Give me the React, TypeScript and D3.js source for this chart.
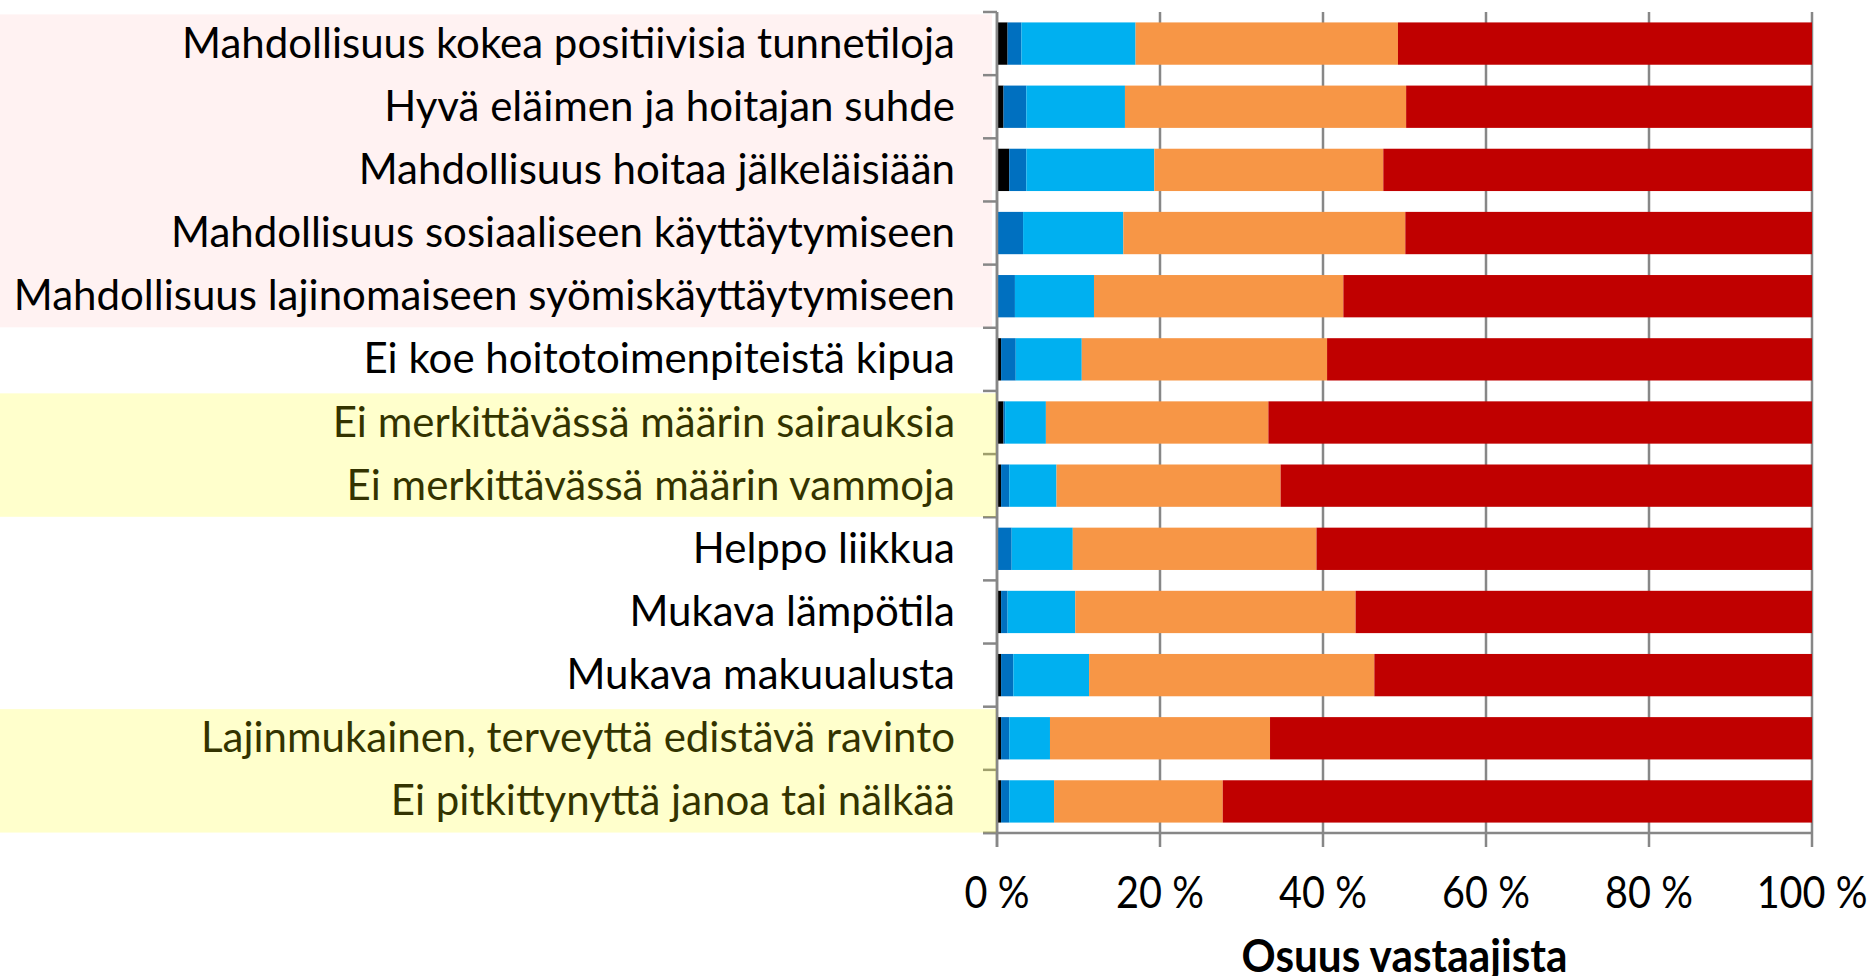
import React from "react";
import * as d3 from "d3";

// väittämät ylhäältä alas
const categories = [
  "Mahdollisuus kokea positiivisia tunnetiloja",
  "Hyvä eläimen ja hoitajan suhde",
  "Mahdollisuus hoitaa jälkeläisiään",
  "Mahdollisuus sosiaaliseen käyttäytymiseen",
  "Mahdollisuus lajinomaiseen syömiskäyttäytymiseen",
  "Ei koe hoitotoimenpiteistä kipua",
  "Ei merkittävässä määrin sairauksia",
  "Ei merkittävässä määrin vammoja",
  "Helppo liikkua",
  "Mukava lämpötila",
  "Mukava makuualusta",
  "Lajinmukainen, terveyttä edistävä ravinto",
  "Ei pitkittynyttä janoa tai nälkää",
];

// osuudet (%) vastausluokittain
const black = [1.3, 0.8, 1.5, 0.1, 0.1, 0.5, 0.8, 0.5, 0.1, 0.5, 0.5, 0.5, 0.5];
const darkBlue = [1.7, 2.8, 2.1, 3.1, 2.1, 1.8, 0.2, 1.0, 1.7, 0.8, 1.5, 1.0, 1.0];
const lightBlue = [14.0, 12.1, 15.7, 12.3, 9.7, 8.1, 5.0, 5.8, 7.5, 8.3, 9.3, 5.0, 5.5];
const orange = [32.2, 34.5, 28.1, 34.6, 30.6, 30.1, 27.3, 27.5, 29.9, 34.4, 35.0, 27.0, 20.7];
const red = [50.8, 49.8, 52.6, 49.9, 57.5, 59.5, 66.7, 65.2, 60.8, 56.0, 53.7, 66.5, 72.3];

const seriesKeys = ["black", "darkBlue", "lightBlue", "orange", "red"];
const seriesColors = ["#000000", "#0070C0", "#00B0F0", "#F79646", "#C00000"];

const xTicks = [0, 20, 40, 60, 80, 100];
const tickLabels = ["0 %", "20 %", "40 %", "60 %", "80 %", "100 %"];
const axisTitle = "Osuus vastaajista";

// korostetut ryhmät (rivi-indeksit)
const highlights = [
  { from: 0, to: 4, kind: "pink" },
  { from: 6, to: 7, kind: "yellow" },
  { from: 11, to: 12, kind: "yellow" },
];

export default function App() {
  const W = 1872, H = 976;
  const left = 997, right = 1812, top = 12, bottom = 833;

  const x = d3.scaleLinear().domain([0, 100]).range([left, right]);
  const y = d3.scaleBand<string>().domain(categories).range([top, bottom])
    .paddingInner(0.33).paddingOuter(0.165);
  const bw = y.bandwidth();
  const step = y.step();

  const rows = categories.map((c, i) => ({
    cat: c, black: black[i], darkBlue: darkBlue[i], lightBlue: lightBlue[i],
    orange: orange[i], red: red[i],
  }));
  const stacked = d3.stack<any>().keys(seriesKeys)(rows);

  const gridColor = "#878787";
  const font = "Lato, 'Open Sans', sans-serif";

  // rajat kategorioiden välillä
  const bandEdges = d3.range(categories.length + 1).map(i => top + i * step);

  const hl = (h: any) => {
    const y0 = (y(categories[h.from]) as number) - 8;
    const y1 = (y(categories[h.to]) as number) + bw + 10;
    return { y0, y1 };
  };

  return (
    <svg width={W} height={H} style={{ position: "absolute", left: 0, top: 0, background: "#fff" }}>
      {/* vaaleanpunainen tausta tekstin alla */}
      {highlights.filter(h => h.kind === "pink").map((h, i) => {
        const r = hl(h);
        return <rect key={"p" + i} x={0} y={r.y0} width={left - 5} height={r.y1 - r.y0} fill="#FFF2F2" />;
      })}

      {/* pystyviivat */}
      {xTicks.map(t => (
        <line key={"g" + t} x1={x(t)} x2={x(t)} y1={top} y2={bottom + 14}
          stroke={gridColor} strokeWidth={2.5} />
      ))}

      {/* pinotut palkit */}
      {stacked.map((s, si) => (
        <g key={s.key} fill={seriesColors[si]}>
          {s.map((d, i) => (
            <rect key={i} x={x(d[0])} y={y(categories[i])} width={Math.max(0, x(d[1]) - x(d[0]))} height={bw} />
          ))}
        </g>
      ))}

      {/* y-akseli */}
      <line x1={left} x2={left} y1={top} y2={bottom + 14} stroke={gridColor} strokeWidth={2.5} />
      {bandEdges.map((e, i) => (
        <line key={"t" + i} x1={left - 14} x2={left} y1={e} y2={e} stroke={gridColor} strokeWidth={2.5} />
      ))}
      {/* x-akseli */}
      <line x1={left - 14} x2={right} y1={bottom} y2={bottom} stroke={gridColor} strokeWidth={2.5} />

      {/* kategoriat */}
      {categories.map(c => (
        <text key={c} x={955} y={(y(c) as number) + bw / 2 + 14} textAnchor="end"
          fontFamily={font} fontSize={42} fill="#000">{c}</text>
      ))}

      {/* keltainen läpikuultava korostus tekstin päällä */}
      {highlights.filter(h => h.kind === "yellow").map((h, i) => {
        const r = hl(h);
        return <rect key={"y" + i} x={0} y={r.y0} width={left - 1} height={r.y1 - r.y0} fill="#FFFF00" fillOpacity={0.2} />;
      })}

      {/* x-akselin arvot */}
      {xTicks.map((t, i) => (
        <text key={"l" + t} transform={`translate(${x(t)},908) scale(0.9,1)`} textAnchor="middle"
          fontFamily={font} fontSize={44} fill="#000">{tickLabels[i]}</text>
      ))}
      <text transform={`translate(${(left + right) / 2},972) scale(0.92,1)`} textAnchor="middle"
        fontFamily={font} fontSize={46} fontWeight="bold" fill="#000">{axisTitle}</text>
    </svg>
  );
}
